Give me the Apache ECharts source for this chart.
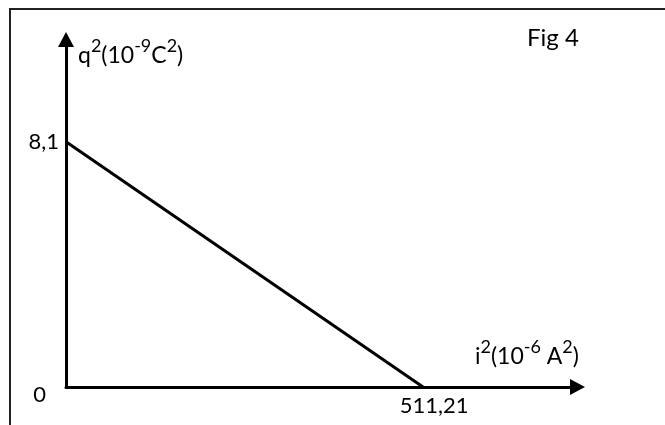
<!DOCTYPE html>
<html>
<head>
<meta charset="utf-8">
<script src="https://cdn.jsdelivr.net/npm/echarts@6/dist/echarts.min.js"></script>
<style>
  html, body { margin: 0; padding: 0; background: #fff; }
  #chart { width: 665px; height: 425px; }
</style>
</head>
<body>
<div id="chart"></div>
<script>
// i^2 (10^-6 A^2) and q^2 (10^-9 C^2): the two intercepts of the line
const iSquared = [0, 511.21];
const qSquared = [8.1, 0];
const xTickValues = [511.21];
const yTickValues = [0, 8.1];

const FONT = "Lato";
const toComma = (v) => String(v).replace(".", ",");

// superscripts: bottom padding lifts them above the main text
const sup = { fontSize: 18, fontFamily: FONT, color: "#000", lineHeight: 17, padding: [0, 0, 12, 0], verticalAlign: "bottom" };
const txt = { fontSize: 23, fontFamily: FONT, color: "#000", lineHeight: 28, verticalAlign: "bottom" };
const nameStyle = { fontFamily: FONT, fontSize: 23, fontWeight: "normal", color: "#000", rich: { n: txt, s: sup } };

const chart = echarts.init(document.getElementById("chart"));
chart.setOption({
  animation: false,
  backgroundColor: "#fff",
  title: [
    {
      text: "Fig 4",
      left: 522,
      top: 21,
      textStyle: { fontFamily: FONT, fontSize: 24, fontWeight: "normal", color: "#000" },
    },
    {
      // y axis name
      text: "{n|q}{s|2}{n|(10}{s|-9}{n|C}{s|2}{n|)}",
      left: 78,
      top: 39,
      padding: 0,
      textStyle: nameStyle,
    },
    {
      // x axis name
      text: "{n|i}{s|2}{n|(10}{s|-6}{n| A}{s|2}{n|)}",
      left: 475,
      top: 340,
      padding: 0,
      textStyle: nameStyle,
    },
  ],
  grid: { left: 66, right: 87.5, top: 39.5, bottom: 38 },
  xAxis: {
    type: "value",
    min: 0,
    max: 732.4,
    axisLine: {
      lineStyle: { color: "#000", width: 3 },
      symbol: ["none", "triangle"],
      symbolSize: [16, 15],
    },
    axisTick: { show: false },
    splitLine: { show: false },
    axisLabel: {
      customValues: xTickValues,
      formatter: (v) => "{v|" + toComma(v) + "}",
      margin: 8,
      rich: { v: { fontSize: 22, fontFamily: FONT, color: "#000", padding: [0, 0, 0, 22] } },
    },
  },
  yAxis: {
    type: "value",
    min: 0,
    max: 11.475,
    axisLine: {
      lineStyle: { color: "#000", width: 3 },
      symbol: ["none", "triangle"],
      symbolSize: [16, 15],
    },
    axisTick: { show: false },
    splitLine: { show: false },
    axisLabel: {
      customValues: yTickValues,
      margin: 7,
      formatter: (v) => (v === 0 ? "{z|0}" : "{v|" + toComma(v) + "}"),
      rich: {
        v: { fontSize: 22, fontFamily: FONT, color: "#000" },
        z: { fontSize: 22, fontFamily: FONT, color: "#000", padding: [16, 13, 0, 0] },
      },
    },
  },
  graphic: [
    {
      type: "polyline",
      shape: { points: [[10, 425], [10, 9], [665, 9]] },
      style: { stroke: "#222", lineWidth: 2, fill: null },
      silent: true,
    },
  ],
  series: [
    {
      type: "line",
      data: iSquared.map((x, k) => [x, qSquared[k]]),
      showSymbol: false,
      lineStyle: { color: "#000", width: 3 },
    },
  ],
});
</script>
</body>
</html>
